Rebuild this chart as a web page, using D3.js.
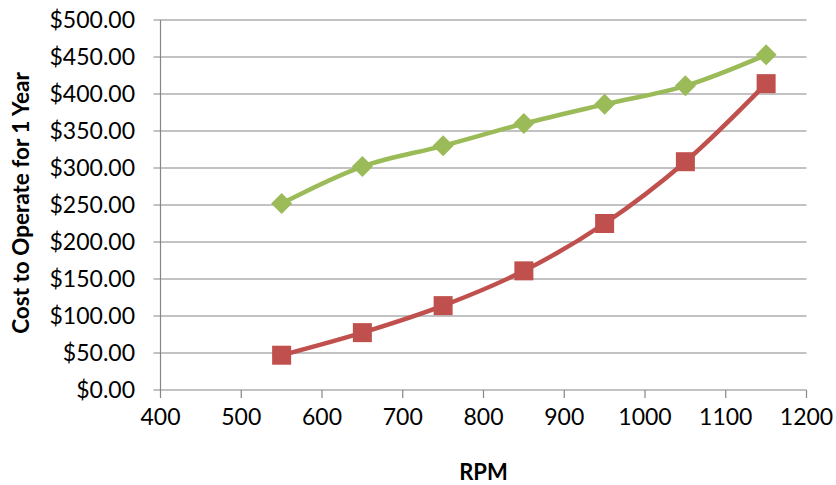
<!DOCTYPE html>
<html><head><meta charset="utf-8">
<script src="https://cdn.jsdelivr.net/npm/d3@7"></script>
<style>body{margin:0;background:#fff}svg{display:block}text{font-family:Lato,"Open Sans",sans-serif;fill:#000}</style>
</head><body><svg id="c" width="836" height="485"></svg>
<script>
const rpm = [550, 650, 750, 850, 950, 1050, 1150];
const greenCost = [252, 302, 330, 360, 386, 411, 453];
const redCost = [47, 77.5, 114, 161, 225, 308.5, 414];
const xTicks = [400, 500, 600, 700, 800, 900, 1000, 1100, 1200];
const yTicks = [0, 50, 100, 150, 200, 250, 300, 350, 400, 450, 500];

const svg = d3.select("#c");
const L = 160.5, R = 806.5, T = 20, B = 390;
const x = d3.scaleLinear().domain([400, 1200]).range([L, R]);
const y = d3.scaleLinear().domain([0, 500]).range([B, T]);
const grid = "#868686";

svg.append("g").selectAll("line").data(yTicks).join("line")
  .attr("x1", L - 7).attr("x2", R).attr("y1", d => y(d)).attr("y2", d => y(d))
  .attr("stroke", grid).attr("stroke-width", 1.2);
svg.append("line").attr("x1", L).attr("x2", L).attr("y1", T).attr("y2", B)
  .attr("stroke", grid).attr("stroke-width", 1.2);
svg.append("g").selectAll("line").data(xTicks).join("line")
  .attr("x1", d => x(d)).attr("x2", d => x(d)).attr("y1", B).attr("y2", B + 8)
  .attr("stroke", grid).attr("stroke-width", 1.2);

const fmt = d => "$" + d3.format(".2f")(d);
svg.append("g").selectAll("text").data(yTicks).join("text")
  .attr("x", 135).attr("y", d => y(d)).attr("dy", "0.36em").attr("text-anchor", "end")
  .style("font-size", "23px").text(fmt);
svg.append("g").selectAll("text").data(xTicks).join("text")
  .attr("x", d => x(d)).attr("y", 425).attr("text-anchor", "middle")
  .style("font-size", "23px").text(d => d);

svg.append("text").attr("x", (L + R) / 2).attr("y", 480).attr("text-anchor", "middle")
  .style("font-size", "22px").style("font-weight", "bold").text("RPM");
svg.append("text").attr("transform", `translate(29,${(T + B) / 2 - 2}) rotate(-90)`)
  .attr("text-anchor", "middle").style("font-size", "22.5px").style("font-weight", "bold")
  .text("Cost to Operate for 1 Year");

const line = d3.line().x((d, i) => x(rpm[i])).y(d => y(d)).curve(d3.curveCatmullRom.alpha(0.5));
const series = [{v: greenCost, c: "#9BBB59", m: "diamond"}, {v: redCost, c: "#C0504D", m: "square"}];
series.forEach(s => {
  svg.append("path").attr("d", line(s.v)).attr("fill", "none").attr("stroke", s.c)
    .attr("stroke-width", 4.5).attr("stroke-linejoin", "round");
  const g = svg.append("g");
  if (s.m === "diamond") {
    g.selectAll("path").data(s.v).join("path")
      .attr("d", (d, i) => { const cx = x(rpm[i]), cy = y(d), r = 10.5; return `M${cx},${cy - r}L${cx + r},${cy}L${cx},${cy + r}L${cx - r},${cy}Z`; })
      .attr("fill", s.c);
  } else {
    g.selectAll("rect").data(s.v).join("rect")
      .attr("x", (d, i) => x(rpm[i]) - 9.5).attr("y", d => y(d) - 9.5)
      .attr("width", 19).attr("height", 19).attr("fill", s.c);
  }
});
</script></body></html>
